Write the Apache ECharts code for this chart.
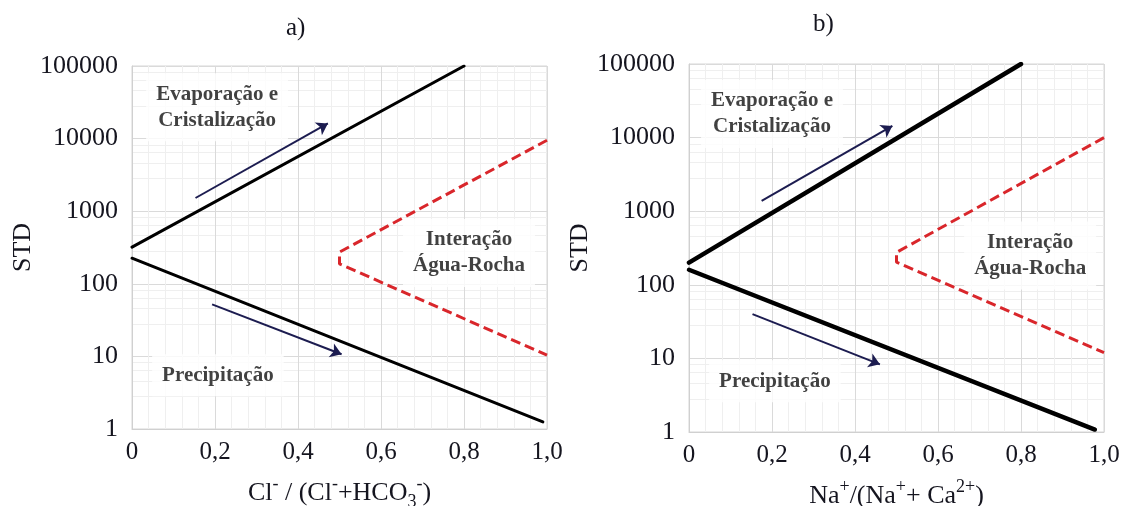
<!DOCTYPE html>
<html><head><meta charset="utf-8">
<script src="https://cdn.jsdelivr.net/npm/echarts@6/dist/echarts.min.js"></script>
<style>html,body{margin:0;padding:0;background:#fff}#c{width:1122px;height:506px}</style>
</head><body><div id="c"></div>
<script>
// ---- data ----
const panelTitles = ['a)', 'b)'];
const xAxisNames = ['{n|Cl}{sup|-} / (Cl{sup|-}+HCO{sub|3}{sup|-})', '{n|Na}{sup|+}/(Na{sup|+}+ Ca{sup|2+})'];
const yAxisName = 'STD';
// panel a
const aEvap = [[0, 320], [0.8, 100000]];
const aPrec = [[0, 225], [0.99, 1.25]];
const aWaterRock = [[1.0, 9500], [0.5, 273], [0.5, 188], [1.0, 10.4]];
const aArrowUp = [[0.153, 1520], [0.472, 16200]];
const aArrowDown = [[0.193, 52], [0.505, 10.7]];
// panel b
const bEvap = [[0, 200], [0.8, 100000]];
const bPrec = [[0, 160], [0.978, 1.08]];
const bWaterRock = [[1.0, 10000], [0.5, 276], [0.5, 203], [1.0, 12]];
const bArrowUp = [[0.175, 1380], [0.49, 14400]];
const bArrowDown = [[0.153, 40], [0.46, 8.3]];
// annotations [x, y, text]
const aNotes = [[0.205, 27000, 'Evaporação e\nCristalização'], [0.207, 5.5, 'Precipitação'], [0.812, 265, 'Interação\nÁgua-Rocha']];
const bNotes = [[0.2, 21000, 'Evaporação e\nCristalização'], [0.207, 4.9, 'Precipitação'], [0.822, 251, 'Interação\nÁgua-Rocha']];

// ---- chart ----
const FONT = 'Liberation Serif';
const TXT = '#15151f';
const grids = [
  {left: 132, right: 575, top: 66, bottom: 77, show: true, borderColor: '#d6d6d6', borderWidth: 1, containLabel: false, outerBoundsMode: 'none'},
  {left: 689, right: 18, top: 64, bottom: 74, show: true, borderColor: '#d6d6d6', borderWidth: 1, containLabel: false, outerBoundsMode: 'none'}
];
const xFmt = v => v === 0 ? '0' : v.toFixed(1).replace('.', ',');
const yFmt = v => String(Math.round(v));
const richName = {
  n: {fontSize: 26, fontFamily: FONT, color: TXT},
  sup: {fontSize: 18, fontFamily: FONT, color: TXT, verticalAlign: 'top', lineHeight: 36},
  sub: {fontSize: 18, fontFamily: FONT, color: TXT, verticalAlign: 'bottom', lineHeight: 36}
};
function xAxis(i) {
  return {
    type: 'value', gridIndex: i, min: 0, max: 1, interval: 0.2,
    name: xAxisNames[i], nameLocation: 'middle', nameGap: 46,
    nameTextStyle: {fontSize: 26, fontFamily: FONT, color: TXT, lineHeight: 36, rich: richName},
    axisLine: {show: true, lineStyle: {color: '#d0d0d0'}},
    axisTick: {show: false},
    axisLabel: {formatter: xFmt, fontSize: 25, fontFamily: FONT, color: TXT, margin: 11},
    splitLine: {show: true, lineStyle: {color: '#dadada', width: 1}},
    minorTick: {show: false, splitNumber: 5},
    minorSplitLine: {show: true, lineStyle: {color: '#efefef', width: 1}}
  };
}
function yAxis(i) {
  return {
    type: 'log', logBase: 10, gridIndex: i, min: 1, max: 100000,
    name: yAxisName, nameLocation: 'middle', nameGap: 94, nameRotate: 90,
    nameTextStyle: {fontSize: 26, fontFamily: FONT, color: TXT},
    axisLine: {show: true, lineStyle: {color: '#d0d0d0'}},
    axisTick: {show: false},
    axisLabel: {formatter: yFmt, fontSize: 26, fontFamily: FONT, color: TXT, margin: 14},
    splitLine: {show: true, lineStyle: {color: '#dadada', width: 1}},
    minorTick: {show: false, splitNumber: 5},
    minorSplitLine: {show: true, lineStyle: {color: '#efefef', width: 1}}
  };
}
function solid(i, data, w) {
  return {type: 'line', xAxisIndex: i, yAxisIndex: i, data: data, symbol: 'none', z: 5,
    lineStyle: {color: '#000', width: w, cap: 'round'}};
}
function dashed(i, data) {
  return {type: 'line', xAxisIndex: i, yAxisIndex: i, data: data, symbol: 'none', z: 4,
    lineStyle: {color: '#d9262b', width: 3, type: [10, 5]}};
}
function arrow(i, data) {
  return {type: 'lines', coordinateSystem: 'cartesian2d', xAxisIndex: i, yAxisIndex: i, z: 6,
    symbol: ['none', 'arrow'], symbolSize: 11,
    lineStyle: {color: '#1c1c50', width: 2, opacity: 1},
    data: [{coords: data}]};
}
function notes(i, arr) {
  return {type: 'scatter', xAxisIndex: i, yAxisIndex: i, symbolSize: 0, z: 3, silent: true,
    data: arr.map(n => ({value: [n[0], n[1]], name: n[2]})),
    label: {show: true, position: 'inside', formatter: '{b}', backgroundColor: '#fff',
      padding: [8, 10], fontFamily: FONT, fontWeight: 'bold', fontSize: 21, lineHeight: 26,
      color: '#111', align: 'center'}};
}
const chart = echarts.init(document.getElementById('c'), null, {renderer: 'canvas'});
chart.setOption({
  animation: false,
  backgroundColor: '#fff',
  title: [
    {text: panelTitles[0], left: 281, top: 11, textStyle: {fontSize: 25, fontWeight: 'normal', fontFamily: FONT, color: TXT}},
    {text: panelTitles[1], left: 808, top: 7, textStyle: {fontSize: 25, fontWeight: 'normal', fontFamily: FONT, color: TXT}}
  ],
  grid: grids,
  xAxis: [xAxis(0), xAxis(1)],
  yAxis: [yAxis(0), yAxis(1)],
  series: [
    notes(0, aNotes), notes(1, bNotes),
    solid(0, aEvap, 3), solid(0, aPrec, 3), dashed(0, aWaterRock),
    arrow(0, aArrowUp), arrow(0, aArrowDown),
    solid(1, bEvap, 4.5), solid(1, bPrec, 4.5), dashed(1, bWaterRock),
    arrow(1, bArrowUp), arrow(1, bArrowDown)
  ]
});
</script></body></html>
